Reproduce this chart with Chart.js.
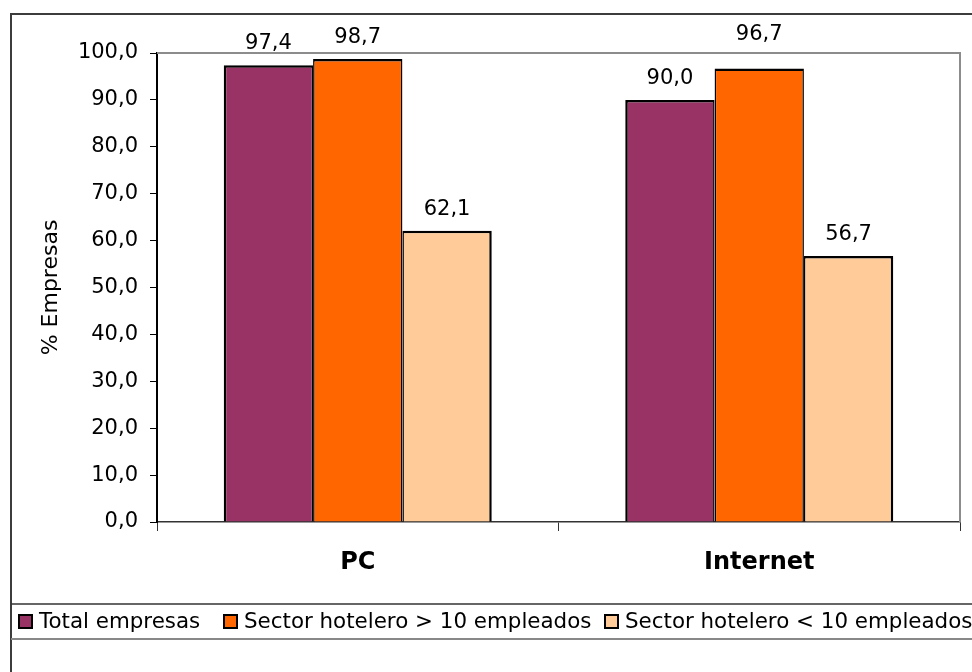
<!DOCTYPE html>
<html>
<head>
<meta charset="utf-8">
<script src="https://cdn.jsdelivr.net/npm/chart.js@4"></script>
<style>
  html, body { margin: 0; padding: 0; background: #fff; overflow: hidden; }
  canvas { display: block; }
</style>
</head>
<body>
<canvas id="chart" width="972" height="672"></canvas>
<script>
// data
const categories = ['PC', 'Internet'];
const seriesNames = ['Total empresas', 'Sector hotelero > 10 empleados', 'Sector hotelero < 10 empleados'];
const totalEmpresas = [97.4, 90.0];
const hoteleroMas10 = [98.7, 96.7];
const hoteleroMenos10 = [62.1, 56.7];
const seriesColors = ['#993366', '#FF6600', '#FFCC99'];

const FONT = 'Verdana, "DejaVu Sans", sans-serif';
const fmt = v => Number(v).toFixed(1).replace('.', ',');

// the 96,7 label sits higher than the others in the original
const labelLift = { '1-1': 12 };

// value labels above each bar
const barLabels = {
  id: 'barLabels',
  afterDatasetsDraw(chart) {
    const ctx = chart.ctx;
    ctx.save();
    ctx.font = '21px ' + FONT;
    ctx.fillStyle = '#000';
    ctx.textAlign = 'center';
    ctx.textBaseline = 'alphabetic';
    chart.data.datasets.forEach((ds, i) => {
      chart.getDatasetMeta(i).data.forEach((bar, j) => {
        const lift = labelLift[i + '-' + j] || 0;
        ctx.fillText(fmt(ds.data[j]), bar.x, bar.y - 16 - lift);
      });
    });
    ctx.restore();
  }
};

// legend item left edges, as in the original
const legendX = [18, 223, 604];

// outer frame, plot border and legend box
const frame = {
  id: 'frame',
  afterDraw(chart) {
    const ctx = chart.ctx;
    const a = chart.chartArea;
    const W = chart.width, H = chart.height;
    ctx.save();
    // plot area border (top, right)
    ctx.strokeStyle = '#8c8c8c';
    ctx.lineWidth = 2;
    ctx.beginPath();
    ctx.moveTo(a.left, a.top);
    ctx.lineTo(a.right, a.top);
    ctx.lineTo(a.right, a.bottom);
    ctx.stroke();

    // outer frame
    ctx.strokeStyle = '#3c3c3c';
    ctx.lineWidth = 2;
    ctx.beginPath();
    ctx.moveTo(W, 14);
    ctx.lineTo(11, 14);
    ctx.lineTo(11, H);
    ctx.stroke();

    // legend box
    ctx.strokeStyle = '#333';
    ctx.lineWidth = 1.5;
    ctx.beginPath();
    ctx.moveTo(11, 604);
    ctx.lineTo(W, 604);
    ctx.stroke();
    ctx.strokeStyle = '#888';
    ctx.lineWidth = 2;
    ctx.beginPath();
    ctx.moveTo(11, 639);
    ctx.lineTo(W, 639);
    ctx.stroke();

    // legend items
    ctx.font = '21.4px ' + FONT;
    ctx.textBaseline = 'middle';
    ctx.textAlign = 'left';
    chart.data.datasets.forEach((ds, i) => {
      const x = legendX[i];
      ctx.fillStyle = ds.backgroundColor;
      ctx.fillRect(x, 614, 15, 15);
      ctx.strokeStyle = '#000';
      ctx.lineWidth = 2;
      ctx.strokeRect(x + 1, 615, 13, 13);
      ctx.fillStyle = '#000';
      ctx.fillText(ds.label, x + 21, 622);
    });
    ctx.restore();
  }
};

const seriesData = [totalEmpresas, hoteleroMas10, hoteleroMenos10];
const borderWidths = [
  { top: 2.5, left: 2.5, right: 1.5, bottom: 0 },
  { top: 2.5, left: 1.5, right: 1.5, bottom: 0 },
  { top: 2.5, left: 1.5, right: 2.5, bottom: 0 }
];

new Chart(document.getElementById('chart'), {
  type: 'bar',
  data: {
    labels: categories,
    datasets: seriesNames.map((name, i) => ({
      label: name,
      data: seriesData[i],
      backgroundColor: seriesColors[i],
      borderColor: '#000',
      borderWidth: borderWidths[i],
      borderSkipped: false,
      inflateAmount: 0,
      categoryPercentage: 0.6675,
      barPercentage: 1
    }))
  },
  options: {
    responsive: false,
    devicePixelRatio: 1,
    animation: false,
    layout: { padding: { left: 0, top: 53, right: 12, bottom: 0 } },
    plugins: {
      legend: { display: false },
      tooltip: { enabled: false }
    },
    scales: {
      x: {
        afterFit: s => { s.height = 150; },
        grid: { display: true, drawOnChartArea: false, drawTicks: true, tickLength: 9, color: '#333', offset: true },
        border: { display: true, color: '#333', width: 1.5 },
        ticks: { font: { family: FONT, size: 24, weight: 'bold' }, color: '#000', padding: 17 }
      },
      y: {
        min: 0,
        max: 100,
        afterFit: s => { s.width = 157; },
        grid: { display: true, drawOnChartArea: false, drawTicks: true, tickLength: 7, color: '#000' },
        border: { display: true, color: '#000', width: 2 },
        ticks: { stepSize: 10, font: { family: FONT, size: 21 }, color: '#000', padding: 12, callback: v => fmt(v) },
        title: { display: true, text: '% Empresas', font: { family: FONT, size: 22 }, color: '#000', padding: { top: 38, bottom: 0 } }
      }
    }
  },
  plugins: [barLabels, frame]
});
</script>
</body>
</html>
